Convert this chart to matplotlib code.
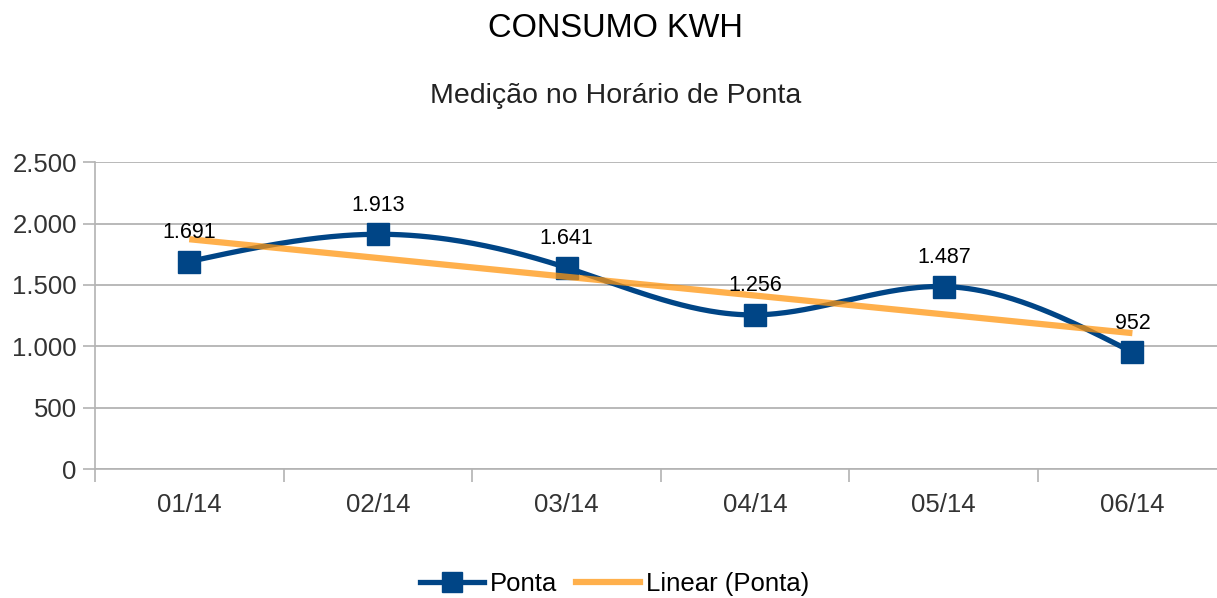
import numpy as np
import matplotlib.pyplot as plt
from matplotlib.ticker import FuncFormatter

plt.rcParams['font.family'] = ['Liberation Sans', 'DejaVu Sans']

meses = ['01/14', '02/14', '03/14', '04/14', '05/14', '06/14']
ponta = [1691, 1913, 1641, 1256, 1487, 952]
rotulos = ['1.691', '1.913', '1.641', '1.256', '1.487', '952']

azul = '#004586'
laranja = '#ff9610'
cinza = '#b3b3b3'


def spline(x, y, n=300):
    # natural cubic spline, like the smoothed line in calc
    x = np.asarray(x, float)
    y = np.asarray(y, float)
    k = len(x)
    h = np.diff(x)
    A = np.zeros((k, k))
    b = np.zeros(k)
    A[0, 0] = 1
    A[-1, -1] = 1
    for i in range(1, k - 1):
        A[i, i - 1] = h[i - 1]
        A[i, i] = 2 * (h[i - 1] + h[i])
        A[i, i + 1] = h[i]
        b[i] = 6 * ((y[i + 1] - y[i]) / h[i] - (y[i] - y[i - 1]) / h[i - 1])
    M = np.linalg.solve(A, b)
    xs = np.linspace(x[0], x[-1], n)
    j = np.clip(np.searchsorted(x, xs) - 1, 0, k - 2)
    t0 = x[j + 1] - xs
    t1 = xs - x[j]
    hj = h[j]
    ys = (M[j] * t0**3 + M[j + 1] * t1**3) / (6 * hj) \
        + (y[j] / hj - M[j] * hj / 6) * t0 + (y[j + 1] / hj - M[j + 1] * hj / 6) * t1
    return xs, ys


x = np.arange(len(meses))
xs, ys = spline(x, ponta)
a, c = np.polyfit(x, ponta, 1)

fig = plt.figure(figsize=(12.17, 5.98), dpi=100)
ax = fig.add_axes([0.078, 0.2157, 0.930, 0.513])

ax.plot(xs, ys, color=azul, lw=3.8, zorder=3, solid_capstyle='butt')
ax.plot(x, ponta, ls='none', marker='s', ms=16, color=azul, zorder=3)
ax.plot(x, a * x + c, color=laranja, lw=4.5, alpha=0.75, zorder=4, solid_capstyle='butt')

for xi, yi, t in zip(x, ponta, rotulos):
    ax.annotate(t, (xi, yi), xytext=(0, 21), textcoords='offset points',
                ha='center', va='center', fontsize=15.5, color='black', zorder=5)

ax.set_xlim(-0.5, 5.5)
ax.set_ylim(0, 2500)
ax.set_yticks(range(0, 2501, 500))
ax.yaxis.set_major_formatter(FuncFormatter(lambda v, p: f'{int(v):,}'.replace(',', '.')))
ax.set_xticks(x)
ax.set_xticklabels(meses)
ax.set_xticks(np.arange(-0.5, 6, 1), minor=True)
ax.tick_params(axis='x', which='major', length=0, pad=17, labelsize=18.5, labelcolor='#333333')
ax.tick_params(axis='x', which='minor', length=9, width=1.2, color=cinza)
ax.tick_params(axis='y', length=9, width=1.2, color=cinza, labelsize=18.5, labelcolor='#333333', pad=4)

ax.grid(axis='y', color=cinza, lw=1.3)
ax.set_axisbelow(True)
for s in ['top', 'right']:
    ax.spines[s].set_visible(False)
ax.spines['left'].set_color(cinza)
ax.spines['bottom'].set_color(cinza)
ax.spines['left'].set_linewidth(1.2)
ax.spines['bottom'].set_linewidth(1.2)

fig.text(0.506, 0.953, 'CONSUMO KWH', ha='center', va='center', fontsize=23.5, color='black')
fig.text(0.506, 0.84, 'Medição no Horário de Ponta', ha='center', va='center', fontsize=20.5, color='#222222')

h1, = ax.plot([], [], color=azul, lw=3.8, marker='s', ms=15)
h2, = ax.plot([], [], color=laranja, lw=4.5, alpha=0.75)
fig.legend([h1, h2], ['Ponta', 'Linear (Ponta)'], loc='center', bbox_to_anchor=(0.505, 0.023),
           ncol=2, frameon=False, fontsize=18.5, handlelength=2.5, columnspacing=0.7,
           handletextpad=0.25)

fig.savefig('out.png', dpi=100)
